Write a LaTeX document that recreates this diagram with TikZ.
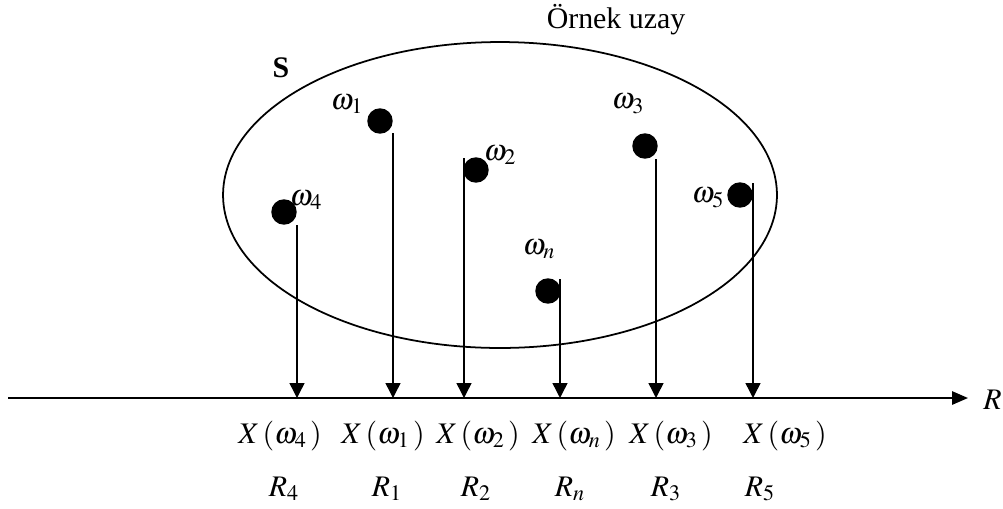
\documentclass[tikz,border=0pt]{standalone}
\usepackage{mathptmx}
\usepackage[no-math]{fontspec}
\setmainfont{Liberation Serif}
\usetikzlibrary{positioning, arrows.meta, shapes.geometric}

\begin{document}
\begin{tikzpicture}[x=0.02cm, y=-0.02cm,
  every node/.style={font=\fontsize{17}{20}\selectfont, inner sep=0pt},
  arr/.style={-{Triangle[length=8.5pt, width=8.5pt]}, line width=0.8pt},
  axisarr/.style={-{Triangle[length=9pt, width=7.5pt]}, line width=1.1pt},
  dot/.style={circle, fill=black, minimum size=14.5pt},
  space/.style={ellipse, draw, line width=1pt, minimum width=11.08cm, minimum height=6.12cm}
]
\useasboundingbox (0,0) rectangle (1003,508);

% ---- Sample space ----
\node[space] (S) at (500,195) {};
\node[font=\fontsize{17}{20}\selectfont\bfseries] (Slab) at (281,68) {S};
\node (orn) at (616,20) {Örnek uzay};

% ---- Outcomes ----
\node[dot] (d1) at (380,121) {};
\node[dot] (d2) at (476,170) {};
\node[dot] (d3) at (645,146) {};
\node[dot] (d4) at (284,212) {};
\node[dot] (d5) at (740,195) {};
\node[dot] (dn) at (548,291) {};

\node (l1) at (347,104) {$\omega_1$};
\node (l2) at (500,155) {$\omega_2$};
\node (l3) at (628,104) {$\omega_3$};
\node (l4) at (306,200) {$\omega_4$};
\node (l5) at (708,198) {$\omega_5$};
\node (ln) at (539,249) {$\omega_n$};

% ---- Real line ----
\coordinate (ax0) at (8,398);
\coordinate (ax1) at (968,398);
\draw[axisarr] (ax0) -- (ax1);
\node[anchor=west] (R) at (983,400) {$R$};

% ---- Arrows: outcome -> real line ----
\foreach \i/\x/\t in {4/297/225, 1/393/133, 2/464/158, n/560/279, 3/656/159, 5/753/183} {
  \coordinate (t\i) at (\x,\t);
  \coordinate (b\i) at (\x,398);
  \draw[arr] (t\i) -- (b\i);
}

% ---- Images and values ----
\foreach \i/\x/\r in {4/280/284, 1/383/387, 2/478/476, n/574/570, 3/671/666, 5/785/760} {
  \node[anchor=base] (x\i) at (\x,443) {$X\,(\omega_{\i}\,)$};
  \node[anchor=base] (r\i) at (\r,496) {$R_{\i}$};
}

\end{tikzpicture}
\end{document}
